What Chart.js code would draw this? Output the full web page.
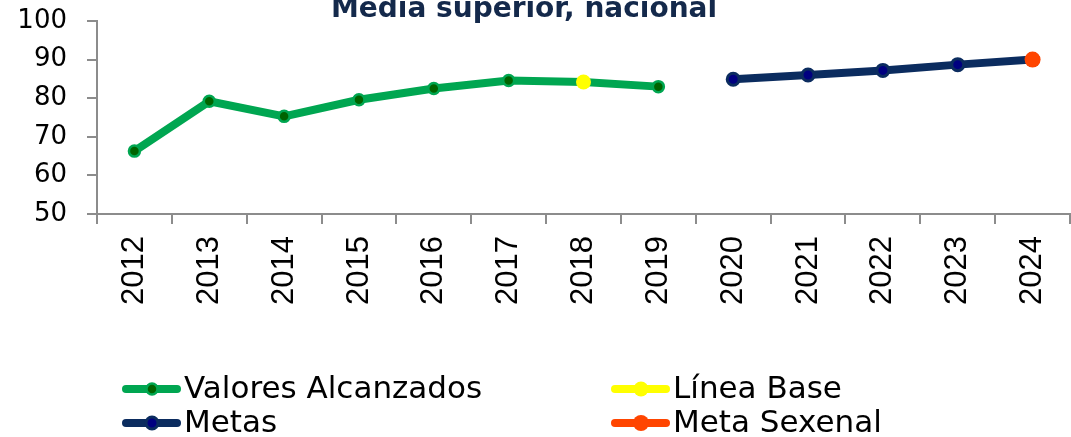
<!DOCTYPE html>
<html>
<head>
<meta charset="utf-8">
<script src="https://cdn.jsdelivr.net/npm/chart.js@4/dist/chart.umd.min.js"></script>
<style>
  html, body { margin: 0; padding: 0; background: white; }
  #wrap { width: 1071px; height: 437px; }
</style>
</head>
<body>
<div id="wrap"><canvas id="chart" width="1071" height="437"></canvas></div>
<script>
const years = ['2012', '2013', '2014', '2015', '2016', '2017', '2018', '2019', '2020', '2021', '2022', '2023', '2024'];
const valoresAlcanzados = [66.3, 79.2, 75.3, 79.6, 82.5, 84.6, 84.2, 83.0, null, null, null, null, null];
const lineaBase = [null, null, null, null, null, null, 84.2, null, null, null, null, null, null];
const metas = [null, null, null, null, null, null, null, null, 84.9, 86.0, 87.2, 88.7, 90.0];
const metaSexenal = [null, null, null, null, null, null, null, null, null, null, null, null, 90.0];
const yTicks = [50, 60, 70, 80, 90, 100];
const chartTitle = 'Media superior, nacional';

const axisGrey = '#8c8c8c';
const legendFont = '31px "DejaVu Sans"';

// title sits half cut off at the top edge, so it is drawn by hand
const topTitle = {
  id: 'topTitle',
  afterDraw(chart) {
    const ctx = chart.ctx;
    ctx.save();
    ctx.fillStyle = '#14294b';
    ctx.font = 'bold 28px "DejaVu Sans"';
    ctx.textAlign = 'center';
    ctx.textBaseline = 'alphabetic';
    ctx.fillText(chartTitle, 524, 17);
    ctx.restore();
  }
};

// two column legend drawn under the axis, like the original
const gridLegend = {
  id: 'gridLegend',
  afterDraw(chart) {
    const ctx = chart.ctx;
    const cols = [123, 612];
    const rows = [389, 423];
    const slots = [[0, 0], [1, 0], [0, 1], [1, 1]];
    chart.data.datasets.forEach((ds, i) => {
      const x = cols[slots[i][0]];
      const y = rows[slots[i][1]];
      ctx.save();
      ctx.lineCap = 'round';
      ctx.lineWidth = 8;
      ctx.strokeStyle = ds.borderColor;
      ctx.beginPath();
      ctx.moveTo(x + 3, y);
      ctx.lineTo(x + 54, y);
      ctx.stroke();
      ctx.beginPath();
      ctx.arc(x + 29, y, ds.pointRadius, 0, Math.PI * 2);
      ctx.fillStyle = ds.pointBackgroundColor;
      ctx.fill();
      if (ds.pointBorderWidth) {
        ctx.lineWidth = ds.pointBorderWidth;
        ctx.strokeStyle = ds.pointBorderColor;
        ctx.stroke();
      }
      ctx.fillStyle = '#000';
      ctx.font = legendFont;
      ctx.textBaseline = 'middle';
      ctx.fillText(ds.label, x + 61, y + 1);
      ctx.restore();
    });
  }
};

new Chart(document.getElementById('chart'), {
  type: 'line',
  data: {
    labels: years,
    datasets: [
      {
        label: 'Valores Alcanzados',
        data: valoresAlcanzados,
        borderColor: '#00a651',
        borderWidth: 8,
        pointRadius: 5.5,
        pointBorderWidth: 2.5,
        pointBackgroundColor: '#006400',
        pointBorderColor: '#00a651',
        order: 1
      },
      {
        label: 'Línea Base',
        data: lineaBase,
        showLine: false,
        borderColor: '#ffff00',
        pointRadius: 7.5,
        pointBorderWidth: 0,
        pointBackgroundColor: '#ffff00',
        pointBorderColor: '#ffff00',
        order: 0
      },
      {
        label: 'Metas',
        data: metas,
        borderColor: '#0b2c5f',
        borderWidth: 8,
        pointRadius: 6,
        pointBorderWidth: 3,
        pointBackgroundColor: '#000080',
        pointBorderColor: '#0b2c5f',
        order: 1
      },
      {
        label: 'Meta Sexenal',
        data: metaSexenal,
        showLine: false,
        borderColor: '#ff4500',
        pointRadius: 8,
        pointBorderWidth: 0,
        pointBackgroundColor: '#ff4500',
        pointBorderColor: '#ff4500',
        order: 0
      }
    ]
  },
  options: {
    responsive: false,
    animation: false,
    layout: {
      autoPadding: false,
      padding: { left: 17, right: 1, top: 21, bottom: 120 }
    },
    plugins: {
      legend: { display: false },
      tooltip: { enabled: false },
      title: { display: false }
    },
    scales: {
      x: {
        offset: true,
        afterFit(scale) {
          // rotated labels should not push the plot inwards
          scale.paddingLeft = 0;
          scale.paddingRight = 0;
        },
        grid: {
          offset: true,
          drawOnChartArea: false,
          drawTicks: true,
          tickLength: 10,
          color: axisGrey,
          lineWidth: 2
        },
        border: { display: true, color: axisGrey, width: 2 },
        ticks: {
          color: '#000',
          padding: 12,
          minRotation: 90,
          maxRotation: 90,
          autoSkip: false,
          font: { family: 'Liberation Sans', size: 31 }
        }
      },
      y: {
        min: 50,
        max: 100,
        afterBuildTicks(scale) {
          scale.ticks = yTicks.map(v => ({ value: v }));
        },
        afterFit(scale) {
          scale.width = 80;
          scale.paddingTop = 0;
          scale.paddingBottom = 0;
        },
        grid: {
          drawOnChartArea: false,
          drawTicks: true,
          tickLength: 10,
          color: axisGrey,
          lineWidth: 2
        },
        border: { display: true, color: axisGrey, width: 2 },
        ticks: {
          color: '#000',
          padding: 20,
          autoSkip: false,
          font: { family: 'DejaVu Sans', size: 26 }
        }
      }
    }
  },
  plugins: [topTitle, gridLegend]
});
</script>
</body>
</html>
